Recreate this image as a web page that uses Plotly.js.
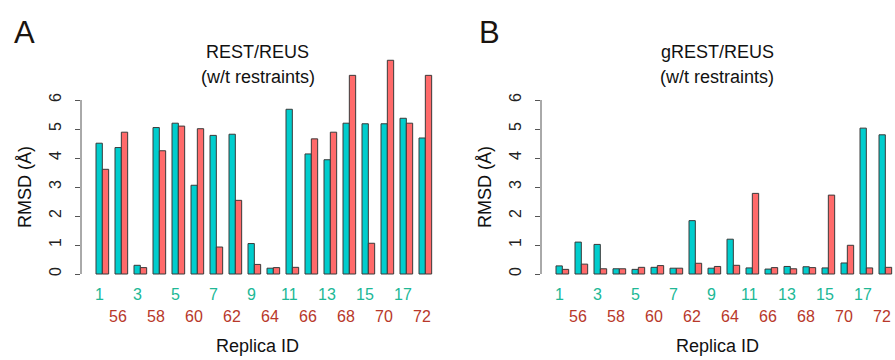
<!DOCTYPE html>
<html>
<head>
<meta charset="utf-8">
<script src="https://cdn.plot.ly/plotly-3.0.1.min.js"></script>
<style>html,body{margin:0;padding:0;background:#fff;}#chart{width:895px;height:360px;}</style>
</head>
<body>
<div id="chart"></div>
<script>
// Data
const groups = [1,2,3,4,5,6,7,8,9,10,11,12,13,14,15,16,17,18];
const restCyan = [4.51,4.36,0.30,5.05,5.20,3.06,4.78,4.82,1.05,0.20,5.68,4.14,3.94,5.20,5.18,5.18,5.37,4.69];
const restRed  = [3.61,4.89,0.22,4.25,5.10,5.01,0.93,2.54,0.33,0.22,0.23,4.66,4.89,6.85,1.06,7.37,5.20,6.85];
const grestCyan = [0.28,1.10,1.02,0.18,0.16,0.23,0.20,1.84,0.20,1.20,0.21,0.17,0.26,0.25,0.21,0.38,5.03,4.80];
const grestRed  = [0.16,0.34,0.18,0.18,0.23,0.29,0.20,0.37,0.26,0.30,2.78,0.22,0.18,0.22,2.72,0.99,0.21,0.23];
const cyanLabels = ['1','3','5','7','9','11','13','15','17'];
const cyanLabelGroups = [1,3,5,7,9,11,13,15,17];
const redLabels = ['56','58','60','62','64','66','68','70','72'];
const redLabelGroups = [2,4,6,8,10,12,14,16,18];
const yTicks = [0,1,2,3,4,5,6];

const W = 895, H = 360;
const CYAN = '#00CDCD', RED = '#FF6A6A', EDGE = '#3a3a3a';
const CYAN_TXT = '#20B896', RED_TXT = '#B8382A';
const FONT = 'Liberation Sans, Arial, sans-serif';

function bar(x, y, color, xa, ya) {
  return {type:'bar', x:x, y:y, xaxis:xa, yaxis:ya,
    marker:{color:color, line:{color:EDGE, width:1}}, hoverinfo:'skip', showlegend:false};
}
const data = [
  bar(groups, restCyan, CYAN, 'x', 'y'),
  bar(groups, restRed, RED, 'x', 'y'),
  bar(groups, grestCyan, CYAN, 'x2', 'y2'),
  bar(groups, grestRed, RED, 'x2', 'y2')
];

const yDom = [(H-288.5)/H, (H-42)/H];
function yax(anchor){
  return {domain:yDom, range:[-0.5,8], anchor:anchor, tickvals:yTicks, ticktext:yTicks.map(String),
    ticks:'outside', ticklen:5, tickcolor:'#555', tickwidth:1, tickangle:-90,
    showgrid:false, zeroline:false, showline:false, ticklabelstandoff:8,
    tickfont:{family:FONT, size:16, color:'#222'}};
}
function xax(anchor, dom, range){
  return {domain:dom, range:range, anchor:anchor, showgrid:false, zeroline:false,
    showline:false, showticklabels:false, ticks:''};
}
const layout = {
  width:W, height:H, autosize:false,
  margin:{l:0,r:0,t:0,b:0},
  paper_bgcolor:'#fff', plot_bgcolor:'rgba(0,0,0,0)',
  barmode:'group', bargap:1/3, bargroupgap:0,
  xaxis: xax('y', [81/W, 445.1/W], [-0.1228, 19.04]),
  yaxis: yax('x'),
  xaxis2: xax('y2', [541/W, 1], [-0.1228, 18.509]),
  yaxis2: yax('x2'),
  shapes: [
    {type:'line', xref:'x domain', yref:'y', x0:0, x1:0, y0:0, y1:6, line:{color:'#555', width:1}},
    {type:'line', xref:'x2 domain', yref:'y2', x0:0, x1:0, y0:0, y1:6, line:{color:'#555', width:1}}
  ],
  annotations: []
};

function ann(text, x, y, size, color, extra){
  return Object.assign({text:text, x:x/W, y:(H-y)/H, xref:'paper', yref:'paper',
    xanchor:'center', yanchor:'middle', showarrow:false,
    font:{family:FONT, size:size, color:color}}, extra||{});
}
const panels = [
  {xa:'x', left:81, letter:'A', lx:24, title:'REST/REUS', tx:257.5},
  {xa:'x2', left:541, letter:'B', lx:489, title:'gREST/REUS', tx:717}
];
panels.forEach(p => {
  cyanLabels.forEach((t,k) => layout.annotations.push({text:t, x:cyanLabelGroups[k]-1/6, xref:p.xa,
    y:(H-294)/H, yref:'paper', showarrow:false, xanchor:'center', yanchor:'middle',
    font:{family:FONT, size:16, color:CYAN_TXT}}));
  redLabels.forEach((t,k) => layout.annotations.push({text:t, x:redLabelGroups[k]-1/6, xref:p.xa,
    y:(H-316.5)/H, yref:'paper', showarrow:false, xanchor:'center', yanchor:'middle',
    font:{family:FONT, size:16, color:RED_TXT}}));
  layout.annotations.push(ann('Replica ID', p.tx, 346, 18, '#111'));
  layout.annotations.push(ann(p.title, p.tx, 52, 18, '#111'));
  layout.annotations.push(ann('(w/t restraints)', p.tx, 77, 18, '#111'));
  layout.annotations.push(ann(p.letter, p.lx, 32, 31, '#1a1410'));
  layout.annotations.push(ann('RMSD (Å)', p.left-56, 187, 18, '#111', {textangle:-90}));
});

Plotly.newPlot('chart', data, layout, {staticPlot:true, displayModeBar:false});
</script>
</body>
</html>
